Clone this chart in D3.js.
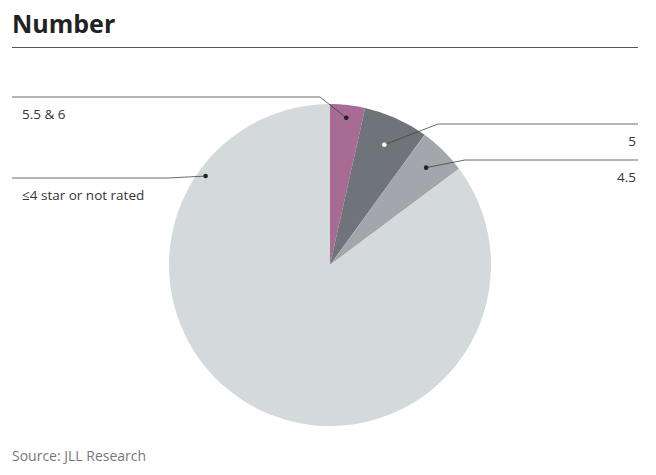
<!DOCTYPE html><html><head><meta charset="utf-8">
<script src="https://cdn.jsdelivr.net/npm/d3@7"></script>
<style>body{margin:0;background:#fff;font-family:"Open Sans",sans-serif}</style></head><body>
<svg id="c" width="656" height="475"></svg>
<script>
const categories=["5.5 & 6","5","4.5","≤4 star or not rated"];
const values=[3.5,6.5,4.8,85.2];
const colors=["#a86b93","#6f737a","#a3a7ad","#d4d9dc"];
const svg=d3.select("#c");
svg.append("text").attr("x",12).attr("y",33).attr("font-size",25).attr("font-weight",700).attr("fill","#222").text("Number");
svg.append("line").attr("x1",12).attr("x2",638).attr("y1",47.5).attr("y2",47.5).attr("stroke","#555").attr("stroke-width",1);
svg.append("text").attr("x",12).attr("y",461).attr("font-size",14).attr("fill","#777").text("Source: JLL Research");
const cx=330,cy=265,R=161;
const pie=d3.pie().sort(null)(values);
const arc=d3.arc().innerRadius(0).outerRadius(R);
const g=svg.append("g").attr("transform",`translate(${cx},${cy})`);
g.selectAll("path").data(pie).join("path").attr("d",arc).attr("fill",(d,i)=>colors[i]);
// label anchors: [dot radius fraction, leader path (page coords), label pos, anchor]
const ann=[
 {f:0.92,path:[[12,97],[320,97]],lx:22,ly:119,a:"start",dotMid:null},
 {f:0.82,path:[[638,124],[438,124]],lx:636,ly:146,a:"end"},
 {f:0.85,path:[[638,160],[465,160]],lx:636,ly:182,a:"end"},
 {f:0.95,path:[[12,178],[168,178]],lx:22,ly:200,a:"start",ang:-0.95}
];
pie.forEach((d,i)=>{
  const A=ann[i];
  const ang=A.ang!==undefined?A.ang:(d.startAngle+d.endAngle)/2;
  const px=cx+Math.sin(ang)*R*A.f, py=cy-Math.cos(ang)*R*A.f;
  const pts=A.path.concat([[px,py]]);
  svg.append("path").attr("d",d3.line()(pts)).attr("fill","none").attr("stroke","#444").attr("stroke-width",0.8);
  svg.append("circle").attr("cx",px).attr("cy",py).attr("r",2.3).attr("fill",i==1?"#fff":"#222");
  svg.append("text").attr("x",A.lx).attr("y",A.ly).attr("text-anchor",A.a).attr("font-size",13.5).attr("fill","#333").text(categories[i]);
});
</script></body></html>
